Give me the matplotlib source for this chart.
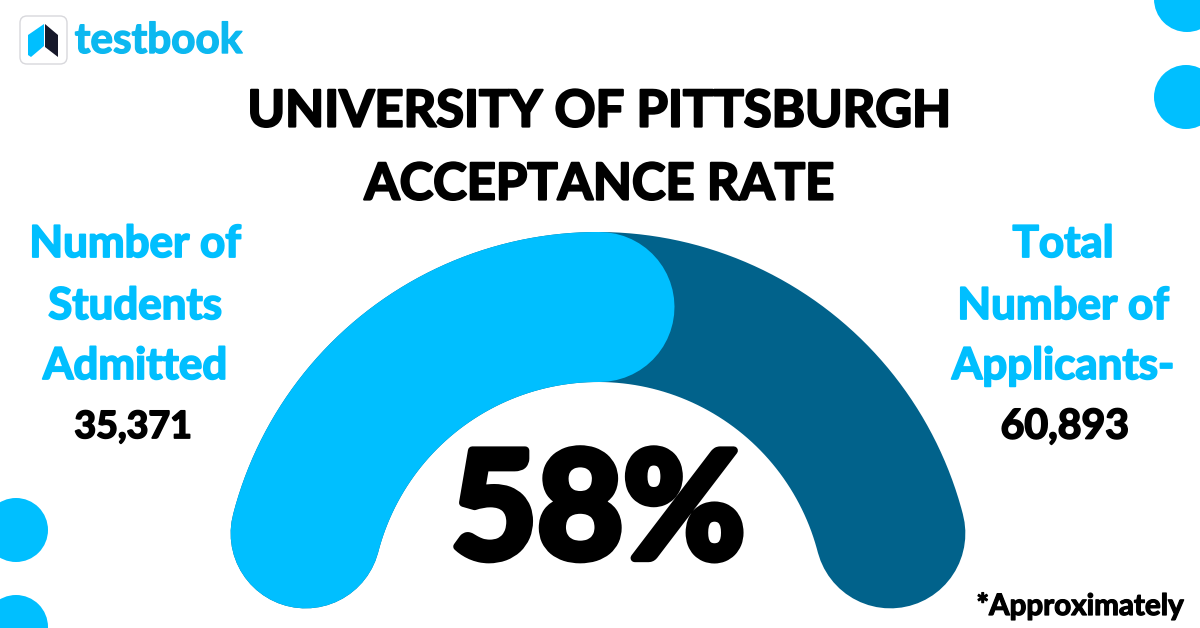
import numpy as np
import matplotlib
matplotlib.use("Agg")
import matplotlib.pyplot as plt
import matplotlib.patheffects as pe
from matplotlib.patches import Circle, FancyBboxPatch, Polygon

title_lines = ["UNIVERSITY OF PITTSBURGH", "ACCEPTANCE RATE"]
left_labels = ["Number of", "Students", "Admitted"]
right_labels = ["Total", "Number of", "Applicants-"]
admitted = 35371
applicants = 60893
rate_label = "58%"
note = "*Approximately"
brand = "testbook"

LIGHT = "#00BFFF"
DARK = "#01628B"
FONT = "Lato"

W, H, DPI = 1200, 628, 100
fig = plt.figure(figsize=(W / DPI, H / DPI), dpi=DPI, facecolor="white")
ax = fig.add_axes([0, 0, 1, 1])
ax.set_xlim(0, W)
ax.set_ylim(H, 0)
ax.axis("off")

# gauge
cx, cy, R, thick = 598, 609, 302, 150
cap = np.degrees(thick / 2 / R)
a0, a1 = 165.5, 14.5
def arc(start, end):
    t = np.radians(np.linspace(start, end, 300))
    return cx + R * np.cos(t), cy - R * np.sin(t)
lw = thick * 72 / DPI
ax.plot(*arc(a0, a1), color=DARK, lw=lw, solid_capstyle="round", zorder=2)
span = (a0 + cap) - (a1 - cap)
share = admitted / applicants
tip = (a0 + cap) - share * span
ax.plot(*arc(a0, tip + cap), color=LIGHT, lw=lw, solid_capstyle="round", zorder=3)

# decorative circles
for x, y, r in [(1187, -1, 33), (1186, 97, 32), (16, 530, 32), (16, 627, 32)]:
    ax.add_patch(Circle((x, y), r, color=LIGHT, lw=0, zorder=1))

def txt(x, y, s, size, color="black", stroke=1.0):
    t = ax.text(x, y, s, fontsize=size, color=color, ha="center", va="center",
                family=FONT, weight="bold", zorder=5)
    t.set_path_effects([pe.withStroke(linewidth=stroke, foreground=color)])

txt(600, 112, title_lines[0], 36.5, stroke=1.6)
txt(600, 185, title_lines[1], 36.5, stroke=1.6)
for y, s in zip([244, 306, 366], left_labels):
    txt(135, y, s, 31.6, LIGHT, stroke=1.3)
txt(133, 427, f"{admitted:,}", 27, stroke=1.3)
for y, s in zip([244, 306, 366], right_labels):
    txt(1063, y, s, 31.6, LIGHT, stroke=1.3)
txt(1065, 427, f"{applicants:,}", 29.5, stroke=1.3)
txt(598, 515, rate_label, 107, stroke=6)
txt(1080, 606, note, 21.3, stroke=0.9)

# logo
ax.add_patch(FancyBboxPatch((20, 16), 47, 48, boxstyle="round,pad=0,rounding_size=7",
                            fc="white", ec="#D8D8DC", lw=1, zorder=4))
ax.add_patch(Polygon([[28, 35], [44, 24], [44, 46], [31, 57], [28, 55]], closed=True, fc=LIGHT, lw=0, zorder=5))
ax.add_patch(Polygon([[45, 24], [58, 35], [58, 57], [45, 47]], closed=True, fc="#16182A", lw=0, zorder=5))
t = ax.text(158.5, 41, brand, fontsize=30.4, color="#0CB8F0", ha="center", va="center",
            family="Lato", weight="bold", zorder=5)
t.set_path_effects([pe.withStroke(linewidth=1.0, foreground="#0CB8F0")])

fig.savefig("out.png", dpi=DPI, facecolor="white")
